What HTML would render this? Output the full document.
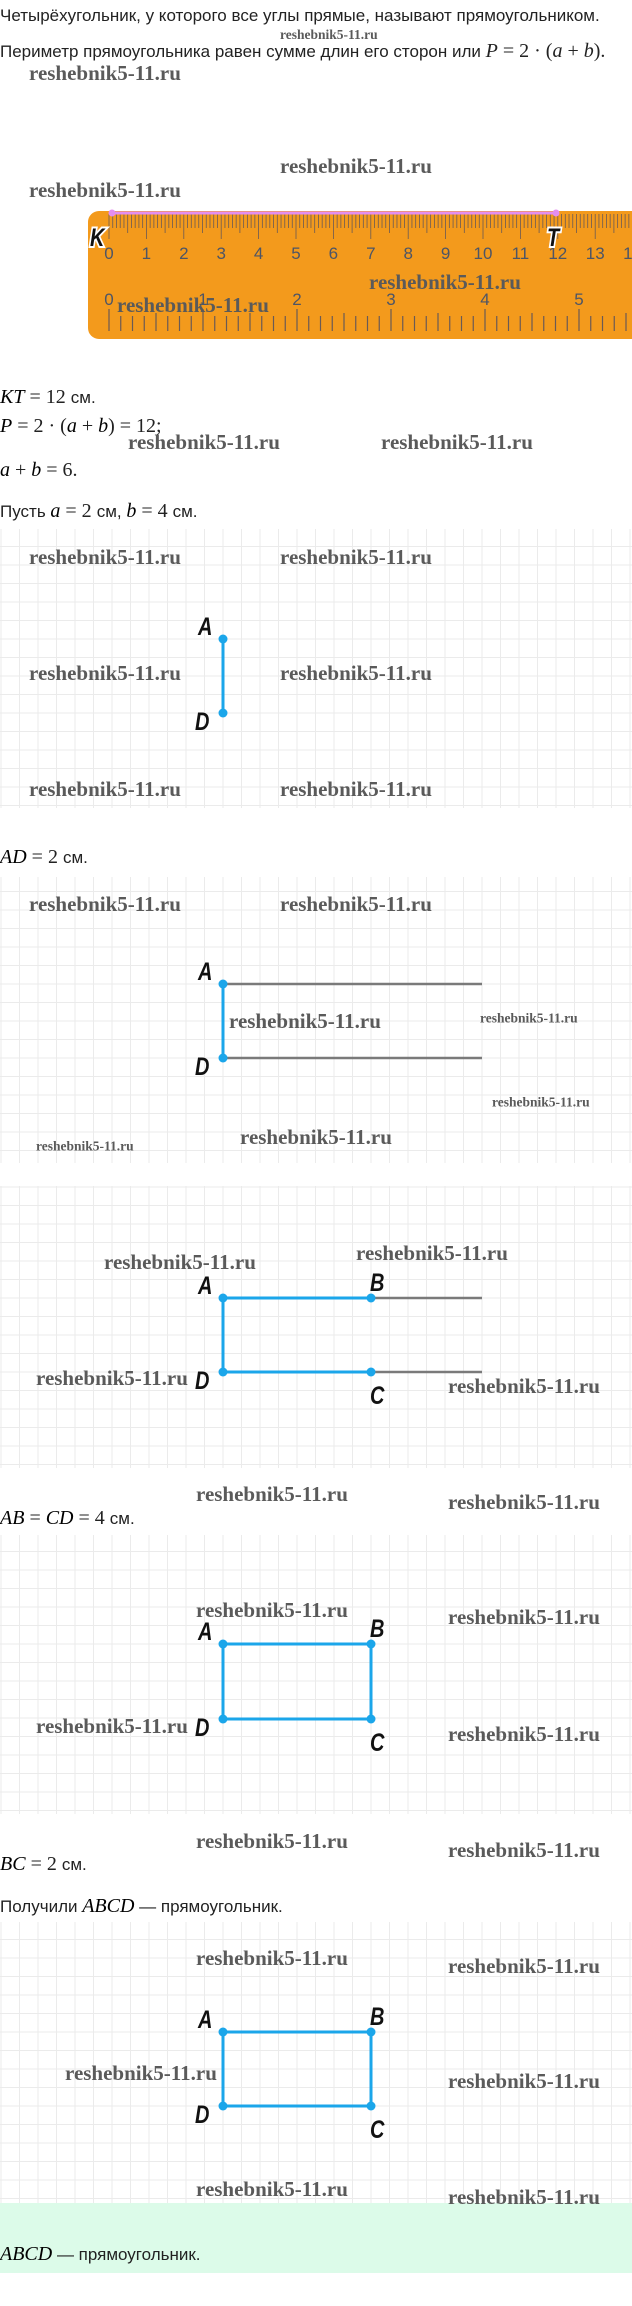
<!DOCTYPE html>
<html><head><meta charset="utf-8">
<style>
html,body{margin:0;padding:0;background:#fff;}
svg{display:block;}
.t{font-family:"Liberation Sans",sans-serif;font-size:17px;fill:#222;}
.m{font-family:"Liberation Serif",serif;font-size:20px;fill:#222;}
.mi{font-family:"Liberation Serif",serif;font-style:italic;font-size:20px;}
.w{font-family:"Liberation Serif",serif;font-weight:bold;font-size:21px;fill:#5a5a5a;}
.ws{font-family:"Liberation Serif",serif;font-weight:bold;font-size:13.5px;fill:#5a5a5a;}
.L{font-family:"Liberation Sans",sans-serif;font-weight:bold;font-style:italic;font-size:25px;fill:#111;}
.rn{font-family:"Liberation Sans",sans-serif;font-size:17px;fill:#4d5566;}
</style></head>
<body>
<svg id="s" width="632" height="2306" viewBox="0 0 632 2306" xmlns="http://www.w3.org/2000/svg">
<g id="grids"></g>
<rect x="0" y="2203" width="632" height="70" fill="#dcfbe9"/>

<text class="t" x="0" y="21">Четырёхугольник, у которого все углы прямые, называют прямоугольником.</text>
<text class="ws" x="280" y="39">reshebnik5-11.ru</text>
<text class="t" x="0" y="57">Периметр прямоугольника равен сумме длин его сторон или <tspan class="mi">P</tspan><tspan class="m"> = 2 · (</tspan><tspan class="mi">a</tspan><tspan class="m"> + </tspan><tspan class="mi">b</tspan><tspan class="m">).</tspan></text>

<rect x="88" y="211" width="580" height="128" rx="11" fill="#f39a1c"/>
<g id="ticks"></g>
<line x1="112" y1="213" x2="556" y2="213" stroke="#e48ef0" stroke-width="3"/>
<circle cx="112" cy="213" r="3.5" fill="#e48ef0"/>
<circle cx="556" cy="213" r="3.5" fill="#e48ef0"/>
<text class="L" x="90" y="246" stroke="#fff" stroke-width="4" paint-order="stroke" transform="translate(90 0) scale(0.8 1) translate(-90 0)">K</text>
<text class="L" x="547" y="246" stroke="#fff" stroke-width="4" paint-order="stroke" transform="translate(547 0) scale(0.8 1) translate(-547 0)">T</text>

<text x="0" y="403"><tspan class="mi">KT</tspan><tspan class="m"> = 12 </tspan><tspan class="t">см.</tspan></text>
<text x="0" y="432"><tspan class="mi">P</tspan><tspan class="m"> = 2 · (</tspan><tspan class="mi">a</tspan><tspan class="m"> + </tspan><tspan class="mi">b</tspan><tspan class="m">) = 12;</tspan></text>
<text x="0" y="476"><tspan class="mi">a</tspan><tspan class="m"> + </tspan><tspan class="mi">b</tspan><tspan class="m"> = 6.</tspan></text>
<text x="0" y="517"><tspan class="t">Пусть </tspan><tspan class="mi">a</tspan><tspan class="m"> = 2 </tspan><tspan class="t">см, </tspan><tspan class="mi">b</tspan><tspan class="m"> = 4 </tspan><tspan class="t">см.</tspan></text>
<text x="0" y="863"><tspan class="mi">AD</tspan><tspan class="m"> = 2 </tspan><tspan class="t">см.</tspan></text>
<text x="0" y="1524"><tspan class="mi">AB</tspan><tspan class="m"> = </tspan><tspan class="mi">CD</tspan><tspan class="m"> = 4 </tspan><tspan class="t">см.</tspan></text>
<text x="0" y="1870"><tspan class="mi">BC</tspan><tspan class="m"> = 2 </tspan><tspan class="t">см.</tspan></text>
<text x="0" y="1912"><tspan class="t">Получили </tspan><tspan class="mi">ABCD</tspan><tspan class="t"> — прямоугольник.</tspan></text>
<text x="0" y="2260"><tspan class="mi">ABCD</tspan><tspan class="t"> — прямоугольник.</tspan></text>

<g id="figs"></g>

<g dominant-baseline="central">
<text class="w" x="29" y="73">reshebnik5-11.ru</text>
<text class="w" x="280" y="166">reshebnik5-11.ru</text>
<text class="w" x="29" y="190">reshebnik5-11.ru</text>
<text class="w" x="369" y="282">reshebnik5-11.ru</text>
<text class="w" x="117" y="305">reshebnik5-11.ru</text>
<text class="w" x="128" y="442">reshebnik5-11.ru</text>
<text class="w" x="381" y="442">reshebnik5-11.ru</text>
<text class="w" x="29" y="557">reshebnik5-11.ru</text>
<text class="w" x="280" y="557">reshebnik5-11.ru</text>
<text class="w" x="29" y="673">reshebnik5-11.ru</text>
<text class="w" x="280" y="673">reshebnik5-11.ru</text>
<text class="w" x="29" y="789">reshebnik5-11.ru</text>
<text class="w" x="280" y="789">reshebnik5-11.ru</text>
<text class="w" x="29" y="904">reshebnik5-11.ru</text>
<text class="w" x="280" y="904">reshebnik5-11.ru</text>
<text class="w" x="229" y="1021">reshebnik5-11.ru</text>
<text class="ws" x="480" y="1018">reshebnik5-11.ru</text>
<text class="ws" x="492" y="1102">reshebnik5-11.ru</text>
<text class="ws" x="36" y="1146">reshebnik5-11.ru</text>
<text class="w" x="240" y="1137">reshebnik5-11.ru</text>
<text class="w" x="104" y="1262">reshebnik5-11.ru</text>
<text class="w" x="356" y="1253">reshebnik5-11.ru</text>
<text class="w" x="36" y="1378">reshebnik5-11.ru</text>
<text class="w" x="448" y="1386">reshebnik5-11.ru</text>
<text class="w" x="196" y="1494">reshebnik5-11.ru</text>
<text class="w" x="448" y="1502">reshebnik5-11.ru</text>
<text class="w" x="196" y="1610">reshebnik5-11.ru</text>
<text class="w" x="448" y="1617">reshebnik5-11.ru</text>
<text class="w" x="36" y="1726">reshebnik5-11.ru</text>
<text class="w" x="448" y="1734">reshebnik5-11.ru</text>
<text class="w" x="196" y="1841">reshebnik5-11.ru</text>
<text class="w" x="448" y="1850">reshebnik5-11.ru</text>
<text class="w" x="196" y="1958">reshebnik5-11.ru</text>
<text class="w" x="448" y="1966">reshebnik5-11.ru</text>
<text class="w" x="65" y="2073">reshebnik5-11.ru</text>
<text class="w" x="448" y="2081">reshebnik5-11.ru</text>
<text class="w" x="196" y="2189">reshebnik5-11.ru</text>
<text class="w" x="448" y="2197">reshebnik5-11.ru</text>
</g>
</svg>
<script>
var NS="http://www.w3.org/2000/svg";
function el(p,tag,a,txt){var e=document.createElementNS(NS,tag);for(var k in a)e.setAttribute(k,a[k]);if(txt!=null)e.textContent=txt;document.getElementById(p).appendChild(e);return e;}
var G=[[529,808,639],[877,1163,984],[1186,1468,1298],[1535,1814,1644],[1922,2203,2032]];
var c=18.5;
G.forEach(function(g){
  var x0=223%c;
  for(var x=x0;x<632;x+=c) el("grids","line",{x1:x.toFixed(1),y1:g[0],x2:x.toFixed(1),y2:g[1],stroke:"#ebebeb","stroke-width":1});
  var y0=g[0]+((g[2]-g[0])%c);
  for(var y=y0;y<g[1];y+=c) el("grids","line",{x1:0,y1:y.toFixed(1),x2:632,y2:y.toFixed(1),stroke:"#ebebeb","stroke-width":1});
});
var cm=37.4,x0=109;
for(var i=0;i<=140;i++){var x=x0+i*cm/10;if(x>632)break;var len=(i%10==0)?25:(i%5==0?19:14);
  el("ticks","line",{x1:x.toFixed(2),y1:214,x2:x.toFixed(2),y2:214+len,stroke:"#6a5a55","stroke-width":0.8});}
for(var i=0;i<=14;i++){var x=x0+i*cm;if(x>640)break;el("ticks","text",{x:x,y:259,"text-anchor":"middle","class":"rn"},""+i);}
var inch=94;
for(var i=0;i<=48;i++){var x=x0+i*inch/8;if(x>632)break;var y1=(i%8==0)?309:(i%4==0?313:316);
  el("ticks","line",{x1:x.toFixed(2),y1:y1,x2:x.toFixed(2),y2:331,stroke:"#6a5a55","stroke-width":1.2});}
for(var i=0;i<=5;i++){el("ticks","text",{x:x0+i*inch,y:305,"text-anchor":"middle","class":"rn"},""+i);}
var BL="#1ba6ea",GR="#7a7a7a";
function ln(a,b,c2,d,col,w){el("figs","line",{x1:a,y1:b,x2:c2,y2:d,stroke:col,"stroke-width":w||3});}
function dot(x,y){el("figs","circle",{cx:x,cy:y,r:4.5,fill:BL});}
function lab(t,x,y){el("figs","text",{x:x,y:y,"class":"L",transform:"translate("+x+" 0) scale(0.8 1) translate("+(-x)+" 0)"},t);}
var AX=223,BX=371;
ln(AX,639,AX,713,BL);dot(AX,639);dot(AX,713);lab("A",198,635);lab("D",195,730);
ln(AX,984,482,984,GR,2.5);ln(AX,1058,482,1058,GR,2.5);ln(AX,984,AX,1058,BL);dot(AX,984);dot(AX,1058);lab("A",198,980);lab("D",195,1075);
ln(BX,1298,482,1298,GR,2.5);ln(BX,1372,482,1372,GR,2.5);
ln(AX,1298,BX,1298,BL);ln(AX,1372,BX,1372,BL);ln(AX,1298,AX,1372,BL);
dot(AX,1298);dot(BX,1298);dot(AX,1372);dot(BX,1372);
lab("A",198,1294);lab("D",195,1389);lab("B",370,1291);lab("C",370,1404);
[[1644,1719],[2032,2106]].forEach(function(p){var a=p[0],d=p[1];
 ln(AX,a,BX,a,BL);ln(AX,d,BX,d,BL);ln(AX,a,AX,d,BL);ln(BX,a,BX,d,BL);
 dot(AX,a);dot(BX,a);dot(AX,d);dot(BX,d);
 lab("A",198,a-4);lab("D",195,d+17);lab("B",370,a-7);lab("C",370,d+32);});
</script>
</body></html>
